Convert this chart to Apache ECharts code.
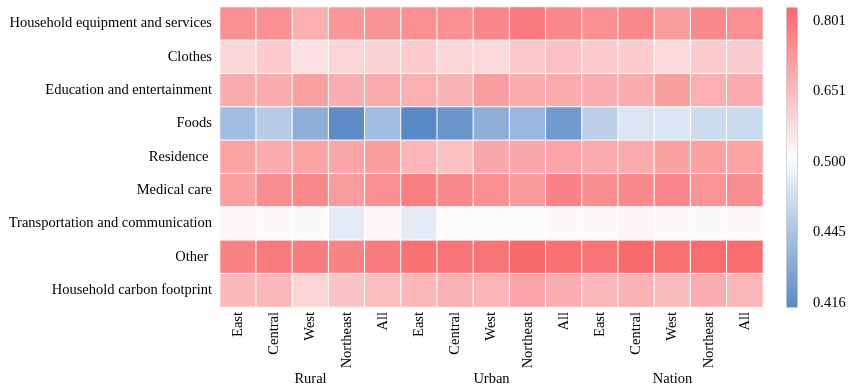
<!DOCTYPE html>
<html><head><meta charset="utf-8">
<script src="https://cdn.jsdelivr.net/npm/echarts@6/dist/echarts.min.js"></script>
<style>html,body{margin:0;padding:0;background:#fff}#c{width:852px;height:388px}</style>
</head><body><div id="c"></div>
<script>
const rows = ['Household equipment and services','Clothes','Education and entertainment','Foods','Residence ','Medical care','Transportation and communication','Other ','Household carbon footprint'];
const regions = ['East','Central','West','Northeast','All'];
const groups = ['Rural','Urban','Nation'];
const colorTicks = [0.416, 0.445, 0.500, 0.651, 0.801];

const householdEquipment = [0.719,0.722,0.659,0.708,0.714, 0.719,0.723,0.741,0.764,0.738, 0.723,0.738,0.696,0.734,0.723];
const clothes            = [0.579,0.601,0.560,0.583,0.586, 0.603,0.576,0.574,0.604,0.621, 0.603,0.601,0.572,0.603,0.598];
const education          = [0.666,0.666,0.689,0.660,0.666, 0.659,0.651,0.696,0.666,0.666, 0.662,0.666,0.696,0.657,0.666];
const foods              = [0.442,0.453,0.435,0.417,0.442, 0.416,0.422,0.435,0.439,0.424, 0.457,0.477,0.478,0.468,0.467];
const residence          = [0.681,0.666,0.681,0.675,0.693, 0.643,0.624,0.672,0.672,0.677, 0.669,0.666,0.689,0.687,0.681];
const medical            = [0.689,0.726,0.738,0.696,0.719, 0.756,0.734,0.723,0.701,0.747, 0.726,0.734,0.741,0.711,0.726];
const transport          = [0.511,0.508,0.506,0.484,0.512, 0.485,0.505,0.505,0.503,0.508, 0.508,0.518,0.508,0.506,0.508];
const other              = [0.749,0.767,0.762,0.746,0.762, 0.783,0.779,0.776,0.801,0.782, 0.779,0.794,0.782,0.791,0.791];
const carbon             = [0.636,0.640,0.583,0.618,0.628, 0.639,0.651,0.648,0.677,0.660, 0.639,0.651,0.633,0.662,0.640];

const matrix = [householdEquipment, clothes, education, foods, residence, medical, transport, other, carbon];
const columns = [];
groups.forEach(g => regions.forEach(r => columns.push(r)));

// piecewise colour scale: the colour bar ticks are evenly spaced
function toPos(v){
  for (let i = 0; i < colorTicks.length - 1; i++) {
    const a = colorTicks[i], b = colorTicks[i+1];
    if (v <= b || i === colorTicks.length - 2) {
      return Math.max(0, Math.min(4, i + (v - a) / (b - a)));
    }
  }
}
const data = [];
matrix.forEach((row, ri) => row.forEach((v, ci) => data.push([ci, ri, toPos(v), v])));

const font = 'Liberation Serif';
const fs = 14.5;
const chart = echarts.init(document.getElementById('c'));
chart.setOption({
  animation: false,
  grid: [
    {left: 220, right: 89, top: 7, height: 300},
    {left: 800, width: 1, top: 21, height: 282}
  ],
  xAxis: [
    {type: 'category', data: columns, gridIndex: 0, position: 'bottom',
     axisLine: {show: false}, axisTick: {show: false}, splitLine: {show: false},
     axisLabel: {rotate: 90, margin: 5, fontFamily: font, fontSize: fs, color: '#000', interval: 0}},
    {type: 'category', data: groups, gridIndex: 0, position: 'bottom', offset: 59,
     axisLine: {show: false}, axisTick: {show: false},
     axisLabel: {margin: 6, fontFamily: font, fontSize: fs, color: '#000', interval: 0}},
    {type: 'value', gridIndex: 1, show: false, min: 0, max: 1}
  ],
  yAxis: [
    {type: 'category', data: rows, inverse: true, gridIndex: 0,
     axisLine: {show: false}, axisTick: {show: false}, splitLine: {show: false},
     axisLabel: {margin: 8, fontFamily: font, fontSize: fs, color: '#000'}},
    {type: 'value', gridIndex: 1, position: 'right', min: 0, max: 4, interval: 1,
     axisLine: {show: false}, axisTick: {show: false}, splitLine: {show: false},
     axisLabel: {margin: 12, fontFamily: font, fontSize: fs, color: '#000',
       formatter: v => colorTicks[v].toFixed(3)}}
  ],
  visualMap: {
    type: 'continuous', min: 0, max: 4, dimension: 2, seriesIndex: 0,
    calculable: false, orient: 'vertical', left: 786, top: 7,
    itemWidth: 11, itemHeight: 300, padding: 0, text: ['', ''],
    borderColor: '#d0d0d0', borderWidth: 1,
    inRange: {color: ['#5A8AC6', '#FCFCFF', '#F8696B']}
  },
  series: [{
    type: 'heatmap', xAxisIndex: 0, yAxisIndex: 0, data: data,
    itemStyle: {borderColor: '#fff', borderWidth: 1},
    label: {show: false}
  }]
});
</script></body></html>
